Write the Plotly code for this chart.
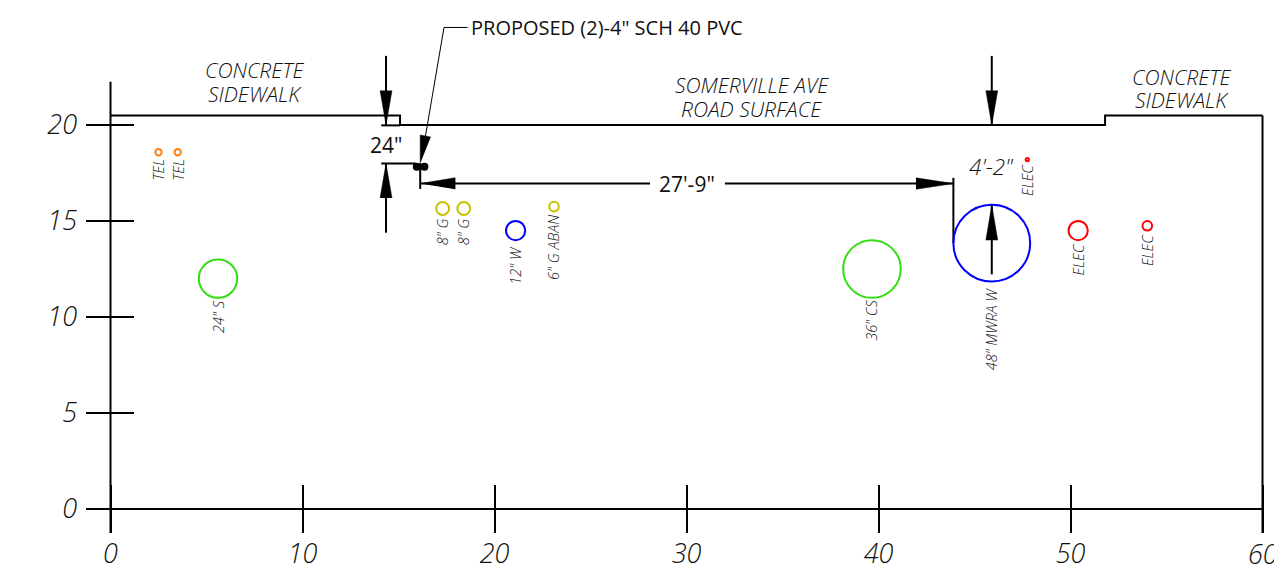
import plotly.graph_objects as go

W, H = 1274, 571
SCALE = 19.2
FONT = "Open Sans"

# --- data (feet) ---
x_ticks = [0, 10, 20, 30, 40, 50, 60]
y_ticks = [0, 5, 10, 15, 20]

ground_x = [0, 15.08, 15.08, 51.8, 51.8, 60]
ground_y = [20.5, 20.5, 20, 20, 20.5, 20.5]

frame_x = [0, 0, None, -1.25, 60, 60, 60]
frame_y = [-1.25, 22.25, None, 0, 0, 20.5, -1.25]

util_names = ["TEL", "TEL", '24" S', '8" G', '8" G', '12" W', '6" G ABAN', '36" CS', '48" MWRA W', "ELEC", "ELEC", "ELEC"]
util_x = [2.5, 3.5, 5.6, 17.3, 18.4, 21.1, 23.1, 39.66, 45.9, 47.75, 50.4, 54.0]
util_y = [18.58, 18.58, 12.0, 15.65, 15.65, 14.5, 15.75, 12.5, 13.85, 18.2, 14.5, 14.75]
util_diam = [0.33, 0.33, 2.0, 0.67, 0.67, 1.0, 0.5, 3.0, 4.0, 0.17, 1.0, 0.5]
util_color = ["#ff7f0e", "#ff7f0e", "#33dd11", "#c8c000", "#c8c000", "#0000ff", "#c8c000", "#33dd11", "#0000ff", "#ff0000", "#ff0000", "#ff0000"]
util_label_x = [2.5, 3.5, 5.6, 17.3, 18.4, 21.1, 23.1, 39.66, 45.9, 47.75, 50.4, 54.0]
util_label_y = [17.65, 17.65, 10.0, 14.45, 14.45, 12.7, 13.6, 9.85, 9.4, 17.15, 13.0, 13.5]

dim_x = [14.35, 14.35, None, 14.35, 14.35, None, 14.1, 15.9, None, 14.1, 15.08, None,
         16.13, 16.13, None, 16.13, 28.1, None, 32.0, 43.9, None, 43.9, 43.9, None,
         45.9, 45.9, None, 45.9, 45.9]
dim_y = [23.6, 20.0, None, 18.0, 14.39, None, 18.0, 18.0, None, 19.98, 19.98, None,
         18.0, 16.67, None, 16.95, 16.95, None, 16.95, 16.95, None, 17.25, 13.85, None,
         23.6, 20.0, None, 15.83, 12.22]

leader_x = [18.6, 17.37, 16.4]
leader_y = [25.08, 25.08, 19.4]

arrow_x = [14.04, 14.35, 14.66, None, 14.04, 14.35, 14.66, None,
           16.13, 17.95, 17.95, None, 41.95, 43.9, 41.95, None,
           45.59, 45.9, 46.21, None, 45.59, 45.9, 46.21, None,
           16.13, 16.13, 16.68]
arrow_y = [21.8, 20.0, 21.8, None, 16.2, 18.0, 16.2, None,
           16.95, 17.25, 16.65, None, 17.25, 16.95, 16.65, None,
           21.8, 20.0, 21.8, None, 14.0, 15.83, 14.0, None,
           18.0, 19.48, 19.37]

pipe_x = [15.95, 16.35]
pipe_y = [17.83, 17.83]

notes = [
    (7.5, 22.85, "CONCRETE", True, 21),
    (7.5, 21.62, "SIDEWALK", True, 21),
    (33.4, 22.08, "SOMERVILLE AVE", True, 21),
    (33.4, 20.84, "ROAD SURFACE", True, 21),
    (55.8, 22.5, "CONCRETE", True, 21),
    (55.8, 21.3, "SIDEWALK", True, 21),
    (14.35, 18.95, '24"', False, 21),
    (30.0, 16.95, "27'-9\"", False, 21),
    (45.87, 17.85, "4'-2\"", True, 22.5),
]
lead_note = (18.68, 25.1, 'PROPOSED (2)-4" SCH 40 PVC')

fig = go.Figure()

line = dict(color="black", width=2)
fig.add_trace(go.Scatter(x=frame_x, y=frame_y, mode="lines", line=line, hoverinfo="skip"))
fig.add_trace(go.Scatter(x=ground_x, y=ground_y, mode="lines", line=line, hoverinfo="skip"))
fig.add_trace(go.Scatter(x=dim_x, y=dim_y, mode="lines", line=line, hoverinfo="skip"))
fig.add_trace(go.Scatter(x=leader_x, y=leader_y, mode="lines", line=dict(color="black", width=1), hoverinfo="skip"))
fig.add_trace(go.Scatter(x=arrow_x, y=arrow_y, mode="lines", fill="toself", fillcolor="black",
                         line=dict(color="black", width=0.5), hoverinfo="skip"))
fig.add_trace(go.Scatter(x=pipe_x, y=pipe_y, mode="lines+markers", line=dict(color="black", width=6),
                         marker=dict(color="black", size=8), hoverinfo="skip"))
fig.add_trace(go.Scatter(
    x=util_x, y=util_y, mode="markers", text=util_names, hoverinfo="text",
    marker=dict(size=[d * SCALE for d in util_diam], color="rgba(0,0,0,0)", opacity=1,
                line=dict(color=util_color, width=2)),
))

for lx, ly, name in zip(util_label_x, util_label_y, util_names):
    fig.add_annotation(x=lx, y=ly, text=f"<i>{name}</i>", textangle=-90, showarrow=False,
                       font=dict(family=FONT, size=14.5, color="#111111", weight=300))

for nx, ny, txt, ital, size in notes:
    fig.add_annotation(x=nx, y=ny, text=f"<i>{txt}</i>" if ital else txt, showarrow=False,
                       height=20, borderpad=0,
                       font=dict(family=FONT, size=size, color="#111111", weight=300 if ital else 400))

fig.add_annotation(x=lead_note[0], y=lead_note[1], text=lead_note[2], showarrow=False, xanchor="left",
                   font=dict(family=FONT, size=20, color="#111111"))

tick_font = dict(family=FONT, size=27, color="#111111", weight=300, style="italic")

# the 60 label runs off the page edge, which an axis label will not do
fig.add_annotation(x=x_ticks[-1], xref="x", xanchor="center", y=0, yref="paper", yanchor="middle",
                   yshift=-20, text="<i>60</i>", showarrow=False, font=tick_font)

x_lo = (86 - 110.5) / SCALE
x_hi = (1274 - 110.5) / SCALE
y_lo = (509 - 533) / SCALE
y_hi = 509 / SCALE

fig.update_layout(
    width=W, height=H,
    margin=dict(l=86, r=0, t=0, b=38),
    paper_bgcolor="white", plot_bgcolor="white",
    showlegend=False,
    xaxis=dict(range=[x_lo, x_hi], tickvals=x_ticks, ticktext=[str(v) for v in x_ticks],
               ticks="inside", ticklen=48, tickwidth=2, tickcolor="black", ticklabelstandoff=2,
               showgrid=False, zeroline=False, showline=False, tickangle=0, tickfont=tick_font),
    yaxis=dict(range=[y_lo, y_hi], tickvals=y_ticks, ticktext=[str(v) for v in y_ticks],
               ticks="inside", ticklen=48, tickwidth=2, tickcolor="black", ticklabelstandoff=8,
               showgrid=False, zeroline=False, showline=False, tickfont=tick_font),
)

fig.write_html("out.html", post_script="document.body.style.margin='0';", config={"displayModeBar": False})
